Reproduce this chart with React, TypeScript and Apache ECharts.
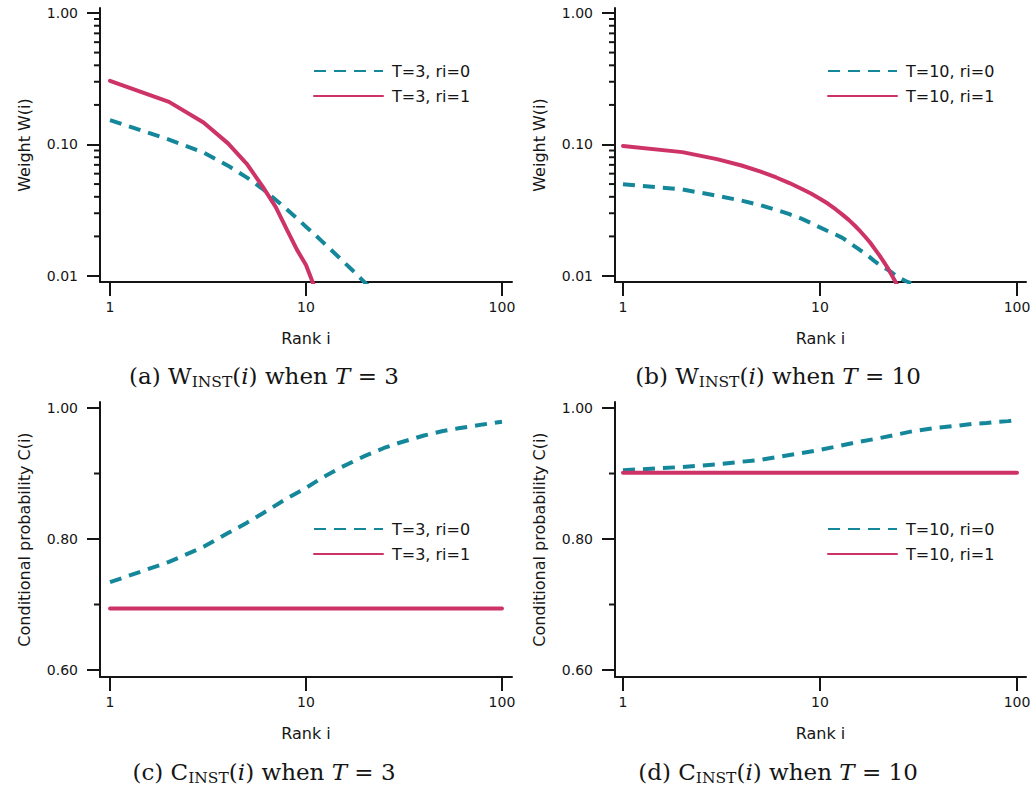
import React, { useEffect, useRef } from "react";
import * as echarts from "echarts";

// ---------------- data ----------------
const xTickValues = [1, 10, 100];
const logMajorTicks = [0.01, 0.1, 1];
const logMinorTicks = [0.02, 0.03, 0.04, 0.05, 0.06, 0.07, 0.08, 0.09, 0.2, 0.3, 0.4, 0.5, 0.6, 0.7, 0.8, 0.9];
const linMajorTicks = [0.6, 0.8, 1.0];
const linMinorTicks = [0.7, 0.9];

// (a) W_INST(i), T = 3
const ranksA0 = [1, 2, 3, 4, 5, 6, 7, 8, 9, 10, 11, 12, 13, 14, 15, 16, 17, 18, 19, 20, 21];
const wT3ri0 = [0.153, 0.109, 0.087, 0.069, 0.056, 0.046, 0.038, 0.032, 0.0274, 0.0237, 0.0209, 0.0185, 0.0165, 0.0149, 0.0135, 0.0123, 0.0113, 0.0104, 0.0096, 0.0089, 0.0083];
const ranksA1 = [1, 2, 3, 4, 5, 6, 7, 8, 9, 10, 11];
const wT3ri1 = [0.305, 0.211, 0.147, 0.102, 0.071, 0.048, 0.0335, 0.0224, 0.0158, 0.0121, 0.0084];

// (b) W_INST(i), T = 10
const ranksB0 = [1, 2, 3, 4, 5, 6, 7, 8, 9, 10, 11, 12, 13, 14, 15, 16, 17, 18, 19, 20, 21, 22, 23, 24, 25, 26, 27, 28, 29];
const wT10ri0 = [0.0498, 0.0455, 0.0408, 0.0374, 0.0345, 0.0318, 0.0295, 0.0274, 0.0253, 0.0234, 0.0219, 0.0207, 0.0195, 0.0181, 0.0168, 0.0157, 0.0148, 0.0138, 0.0129, 0.0122, 0.0116, 0.0112, 0.0107, 0.0102, 0.0099, 0.0095, 0.0092, 0.009, 0.0088];
const ranksB1 = [1, 2, 3, 4, 5, 6, 7, 8, 9, 10, 11, 12, 13, 14, 15, 16, 17, 18, 19, 20, 21, 22, 23, 24, 25];
const wT10ri1 = [0.0975, 0.0875, 0.0774, 0.0692, 0.0621, 0.0561, 0.0509, 0.0463, 0.0424, 0.0387, 0.0354, 0.0322, 0.0293, 0.0267, 0.0242, 0.0219, 0.0198, 0.0179, 0.016, 0.0144, 0.0129, 0.0116, 0.0103, 0.0092, 0.0082];

// (c) C_INST(i), T = 3 and (d) T = 10
const ranksC = [1, 2, 3, 4, 5, 6, 8, 10, 12, 15, 20, 25, 30, 40, 50, 60, 70, 80, 90, 100];
const cT3ri0 = [0.734, 0.765, 0.788, 0.809, 0.825, 0.839, 0.862, 0.878, 0.893, 0.909, 0.927, 0.939, 0.947, 0.958, 0.965, 0.969, 0.972, 0.975, 0.977, 0.979];
const cT3ri1 = [0.694, 0.694, 0.694, 0.694, 0.694, 0.694, 0.694, 0.694, 0.694, 0.694, 0.694, 0.694, 0.694, 0.694, 0.694, 0.694, 0.694, 0.694, 0.694, 0.694];
const cT10ri0 = [0.905, 0.91, 0.914, 0.918, 0.921, 0.925, 0.931, 0.936, 0.941, 0.947, 0.954, 0.96, 0.965, 0.97, 0.973, 0.976, 0.977, 0.979, 0.98, 0.982];
const cT10ri1 = [0.901, 0.901, 0.901, 0.901, 0.901, 0.901, 0.901, 0.901, 0.901, 0.901, 0.901, 0.901, 0.901, 0.901, 0.901, 0.901, 0.901, 0.901, 0.901, 0.901];

const seriesNames = ["T=3, ri=0", "T=3, ri=1", "T=10, ri=0", "T=10, ri=1"];
const yNames = ["Weight W(i)", "Weight W(i)", "Conditional probability C(i)", "Conditional probability C(i)"];
const xName = "Rank i";

// ---------------- style ----------------
const TEAL = "#15879b";
const RED = "#cd3366";
const INK = "#151515";
const SANS = "DejaVu Sans";
const SERIF = "DejaVu Serif";

const grids = [
  { left: 100, top: 8, width: 412, height: 274 },
  { left: 615, top: 8, width: 411, height: 274 },
  { left: 100, top: 402, width: 412, height: 275 },
  { left: 615, top: 402, width: 411, height: 275 },
];
const xRange = [
  [0.889, 112.5],
  [0.911, 111.1],
  [0.889, 112.5],
  [0.911, 111.1],
];
const logYRange = [0.009, 1.0914];
const linYRange = [0.5893, 1.0092];

function pairs(xs: number[], ys: number[]) {
  return xs.map((x, i) => [x, ys[i]]);
}

function captionGraphics() {
  const rich = {
    r: { fontFamily: SERIF, fontSize: 23, color: INK, lineHeight: 30 },
    it: { fontFamily: SERIF, fontSize: 23, fontStyle: "italic", color: INK, lineHeight: 30 },
    s: { fontFamily: SERIF, fontSize: 15.5, color: INK, lineHeight: 30, padding: [12, 0, 0, 0] },
  };
  const captions = [
    { x: 264, y: 376, text: "{r|(a) W}{s|INST}{r|(}{it|i}{r|) when }{it|T}{r| = 3}" },
    { x: 778, y: 376, text: "{r|(b) W}{s|INST}{r|(}{it|i}{r|) when }{it|T}{r| = 10}" },
    { x: 264, y: 772, text: "{r|(c) C}{s|INST}{r|(}{it|i}{r|) when }{it|T}{r| = 3}" },
    { x: 778, y: 772, text: "{r|(d) C}{s|INST}{r|(}{it|i}{r|) when }{it|T}{r| = 10}" },
  ];
  return captions.map((c, i) => ({
    id: "caption" + i,
    type: "text",
    x: c.x,
    y: c.y,
    silent: true,
    style: {
      text: c.text,
      rich,
      align: "center",
      verticalAlign: "middle",
      textAlign: "center",
      textVerticalAlign: "middle",
      fill: INK,
    },
  }));
}

// short y ticks: same min/max mapping the y axes use (log or linear)
function minorTickGraphics() {
  const els: any[] = [];
  for (let g = 0; g < 4; g++) {
    const isLog = g < 2;
    const values = isLog ? logMinorTicks : linMinorTicks;
    const yr = isLog ? logYRange : linYRange;
    const box = grids[g];
    values.forEach((v, j) => {
      const f = isLog
        ? (Math.log(v) - Math.log(yr[0])) / (Math.log(yr[1]) - Math.log(yr[0]))
        : (v - yr[0]) / (yr[1] - yr[0]);
      const py = box.top + box.height * (1 - f);
      els.push({
        id: "mt" + g + "_" + j,
        type: "line",
        silent: true,
        z: 100,
        shape: { x1: box.left - 6, y1: py, x2: box.left, y2: py },
        style: { stroke: INK, lineWidth: 2 },
      });
    });
  }
  return els;
}

function buildOption() {
  const xAxis: any[] = [];
  const yAxis: any[] = [];
  const lineCommon = () => ({ color: INK, width: 2 });
  for (let g = 0; g < 4; g++) {
    const isLog = g < 2;
    xAxis.push({
      gridIndex: g,
      type: "log",
      logBase: 10,
      min: xRange[g][0],
      max: xRange[g][1],
      position: "bottom",
      axisLine: { show: true, onZero: false, lineStyle: lineCommon() },
      axisTick: { show: true, length: 14, lineStyle: lineCommon(), customValues: xTickValues },
      axisLabel: {
        show: true,
        customValues: xTickValues,
        margin: 18,
        fontSize: 14,
        fontFamily: SANS,
        color: INK,
        formatter: (v: number) => String(Math.round(v)),
      },
      minorTick: { show: false },
      splitLine: { show: false },
      name: xName,
      nameLocation: "middle",
      nameGap: 48,
      nameTextStyle: { fontSize: 16, fontFamily: SANS, color: INK },
    });
    const yr = isLog ? logYRange : linYRange;
    const ticks = isLog ? logMajorTicks : linMajorTicks;
    yAxis.push({
      gridIndex: g,
      type: isLog ? "log" : "value",
      ...(isLog ? { logBase: 10 } : {}),
      min: yr[0],
      max: yr[1],
      position: "left",
      axisLine: { show: true, onZero: false, lineStyle: lineCommon() },
      axisTick: { show: true, length: 13, lineStyle: lineCommon(), customValues: ticks },
      axisLabel: {
        show: true,
        customValues: ticks,
        margin: 22,
        fontSize: 14,
        fontFamily: SANS,
        color: INK,
        formatter: (v: number) => v.toFixed(2),
      },
      minorTick: { show: false },
      splitLine: { show: false },
      name: yNames[g],
      nameLocation: "middle",
      nameGap: 68,
      nameTextStyle: { fontSize: 16, fontFamily: SANS, color: INK },
    });
  }

  const dashed = { color: TEAL, width: 4, type: [12, 8], cap: "butt" };
  const solid = { color: RED, width: 4, type: "solid", cap: "round" };
  const mk = (g: number, name: string, data: number[][], ls: any, color: string) => ({
    type: "line",
    name,
    xAxisIndex: g,
    yAxisIndex: g,
    data,
    symbol: "none",
    showSymbol: false,
    color,
    itemStyle: { color },
    lineStyle: ls,
    clip: true,
    silent: true,
    emphasis: { disabled: true },
  });

  const series: any[] = [
    mk(0, seriesNames[0], pairs(ranksA0, wT3ri0), dashed, TEAL),
    mk(0, seriesNames[1], pairs(ranksA1, wT3ri1), solid, RED),
    mk(1, seriesNames[2], pairs(ranksB0, wT10ri0), dashed, TEAL),
    mk(1, seriesNames[3], pairs(ranksB1, wT10ri1), solid, RED),
    mk(2, seriesNames[0], pairs(ranksC, cT3ri0), dashed, TEAL),
    mk(2, seriesNames[1], pairs(ranksC, cT3ri1), solid, RED),
    mk(3, seriesNames[2], pairs(ranksC, cT10ri0), dashed, TEAL),
    mk(3, seriesNames[3], pairs(ranksC, cT10ri1), solid, RED),
  ];

  const legendPos = [
    { left: 313, top: 63, names: [seriesNames[0], seriesNames[1]] },
    { left: 827, top: 63, names: [seriesNames[2], seriesNames[3]] },
    { left: 313, top: 521, names: [seriesNames[0], seriesNames[1]] },
    { left: 827, top: 521, names: [seriesNames[2], seriesNames[3]] },
  ];
  const legend = legendPos.map((l) => ({
    orient: "vertical",
    left: l.left,
    top: l.top,
    padding: 0,
    itemWidth: 69,
    itemHeight: 14,
    itemGap: 9,
    selectedMode: false,
    data: l.names,
    itemStyle: { opacity: 0 },
    textStyle: { fontSize: 16, fontFamily: SANS, color: INK, padding: [0, 0, 0, 4] },
  }));

  return {
    animation: false,
    backgroundColor: "#ffffff",
    grid: grids.map((g) => ({ ...g, containLabel: false, outerBoundsMode: "none" })),
    xAxis,
    yAxis,
    legend,
    series,
    graphic: [...captionGraphics(), ...minorTickGraphics()],
  };
}

export default function App() {
  const ref = useRef<HTMLDivElement>(null);
  useEffect(() => {
    if (!ref.current) return;
    const chart = echarts.init(ref.current, undefined, { renderer: "svg" });
    chart.setOption(buildOption() as any);
    return () => chart.dispose();
  }, []);
  return (
    <div
      ref={ref}
      style={{ position: "absolute", left: 0, top: 0, width: 1034, height: 789, background: "#fff" }}
    />
  );
}
